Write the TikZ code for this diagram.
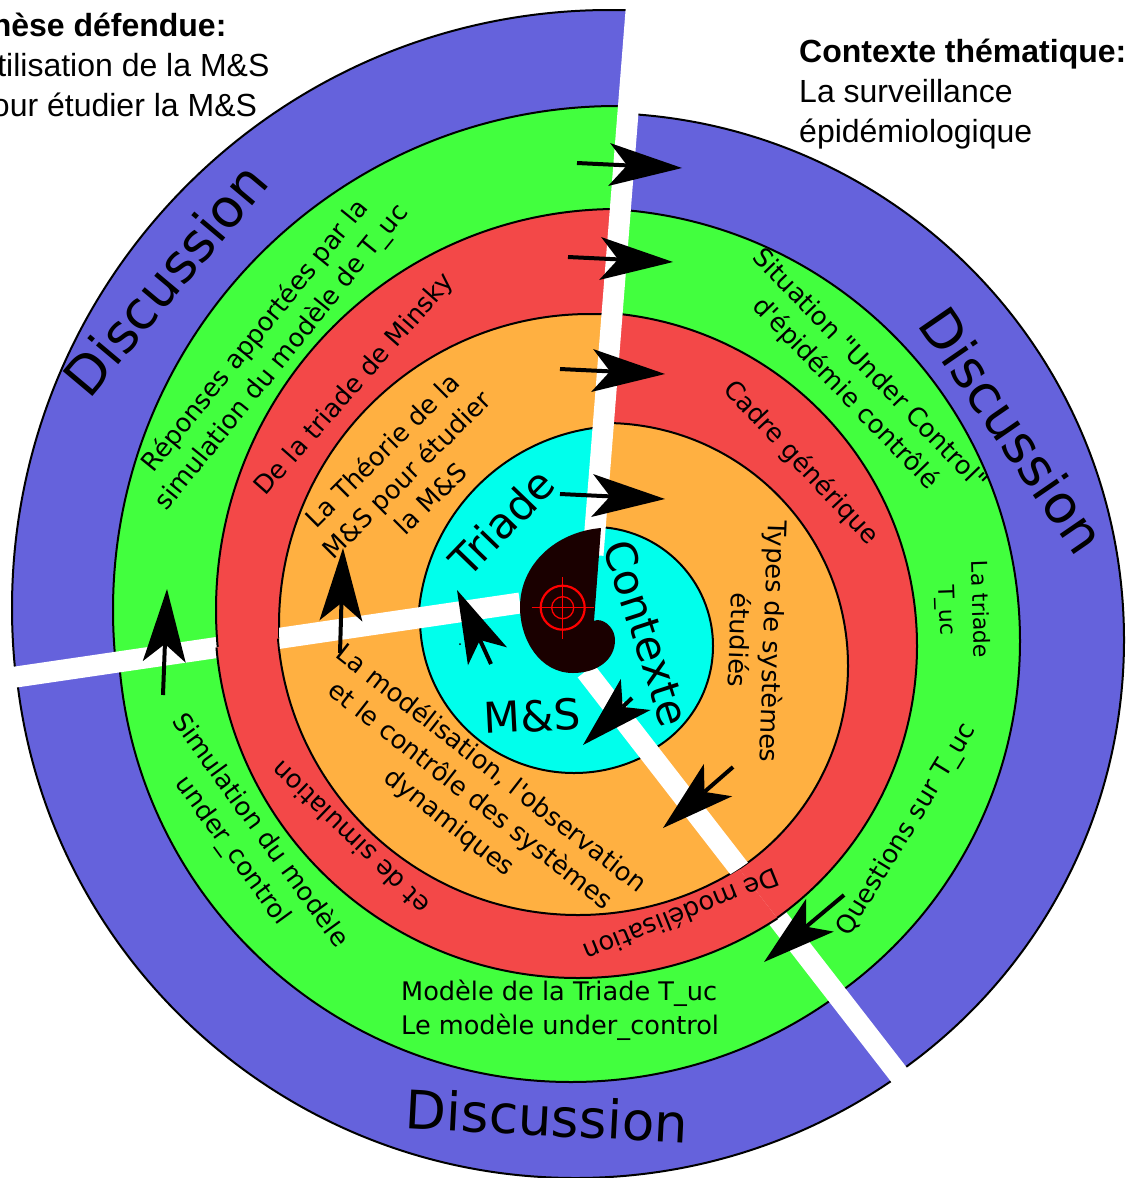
\documentclass[tikz,border=0pt]{standalone}
\usepackage{fontspec}
\setmainfont{Liberation Sans}
\newfontfamily\djv{DejaVu Sans}
\usetikzlibrary{arrows.meta}
\definecolor{cblue}{HTML}{6562DC}
\definecolor{cgreen}{HTML}{42FF3E}
\definecolor{cred}{HTML}{F34848}
\definecolor{corange}{HTML}{FFB041}
\definecolor{ccyan}{HTML}{00FFEC}
\definecolor{cblob}{HTML}{1A0000}
\tikzset{
  ring/.style={draw=black,line width=2pt},
  spoke/.style={draw=white,line width=21pt},
  lab/.style={font={\fontsize{25.6}{34}\selectfont\djv},align=center,inner sep=0pt,text=black},
  smalllab/.style={font={\fontsize{22}{33}\selectfont\djv},align=center,inner sep=0pt},
  big/.style={font={\fontsize{42.5}{48}\selectfont\djv},inner sep=0pt},
  huge/.style={font={\fontsize{53.2}{60}\selectfont\djv},inner sep=0pt},
  head/.style={font={\fontsize{32}{40}\selectfont},align=left,inner sep=0pt,anchor=north west},
  bigarrow/.style={draw=black,line width=4pt,-{Stealth[length=73pt,width=43pt,inset=18pt,line width=0pt]}},
}
\newcommand{\wedgeA}{(565,630)--(520,603)--(16,677)--(-300,723)--(-300,-300)--(644,-300)--(636,10)--(595,530)--cycle}
\newcommand{\wedgeB}{(565,630)--(595,530)--(636,10)--(644,-300)--(1500,-300)--(1500,1700)--(1055,1277)--(586,671)--cycle}
\newcommand{\wedgeC}{(565,630)--(586,671)--(1055,1277)--(1055,1700)--(-300,1700)--(-300,723)--(16,677)--(520,603)--cycle}
\newcommand{\ringlayer}[4]{%
  \begin{scope}\clip \wedgeA; \path[ring,fill=#1] #2; \end{scope}
  \begin{scope}\clip \wedgeB; \path[ring,fill=#1] #3; \end{scope}
  \begin{scope}\clip \wedgeC; \path[ring,fill=#1] #4; \end{scope}}
\newcommand{\arrowfrom}[5]{%
  \coordinate (#1t) at (#2,#3); \coordinate (#1h) at (#4,#5);
  \draw[bigarrow] (#1t) -- (#1h);}
\begin{document}
\begin{tikzpicture}[x=1pt,y=-1pt]
\useasboundingbox (0,0) rectangle (1125,1178);
\clip (0,0) rectangle (1125,1178);
% spoke coordinates
\coordinate (s1a) at (644,-90); \coordinate (s1b) at (593,555);
\coordinate (s2a) at (-100,694); \coordinate (s2b) at (520,603);
\coordinate (s3a) at (586,671); \coordinate (s3b) at (1000,1205);
% outer layers
\ringlayer{cblue}{(610,608) circle[radius=598pt]}{(597,640) circle[radius=527pt]}{(575.5,616) circle[radius=562pt]}
\ringlayer{cgreen}{(617,610) circle[radius=504pt]}{(587.5,641) circle[radius=432.5pt]}{(571,629) circle[radius=453pt]}
\draw[spoke] (s2a) -- (s2b);
\draw[spoke] (s3a) -- (s3b);
% inner layers
\ringlayer{cred}{(617,610) circle[radius=401pt]}{(583,646) circle[radius=334pt]}{(578,615) circle[radius=363pt]}
\draw[cred,line width=3pt] (221,646.5) -- (282,638);
\draw[cred,line width=3pt] (736,862) -- (775,912);
\ringlayer{corange}{(590,625) circle[radius=311pt]}{(605,666) circle[radius=243pt]}{(578,614) circle[radius=301pt]}
\ringlayer{ccyan}{(622,630) circle[radius=204pt]}{(594,646) circle[radius=119pt]}{(574,619) circle[radius=154pt]}
\begin{scope}\clip (590,625) circle[radius=311pt]; \draw[spoke] (s2a) -- (s2b); \end{scope}
\begin{scope}\clip (605,666) circle[radius=243pt]; \draw[spoke] (s3a) -- (s3b); \end{scope}
\draw[spoke] (s1a) -- (s1b);
% central blob and target
\fill[cblob] (601,528) .. controls (555,532) and (520,565) .. (520,607)
  .. controls (520,640) and (540,673) .. (573,673)
  .. controls (597,673) and (615,660) .. (615,640)
  .. controls (615,630) and (607,620) .. (597,620)
  -- (594,621) -- cycle;
\draw[red,line width=2.2pt] (562.7,607.7) circle[radius=22pt];
\draw[red,line width=1.3pt] (562.7,607.7) circle[radius=11pt];
\draw[red,line width=1.3pt] (531.7,607.7) -- (594,607.7) (562.7,577) -- (562.7,639);
% arrows
\arrowfrom{a}{577}{163}{682}{168}
\arrowfrom{b}{568}{257}{673}{262}
\arrowfrom{c}{560}{369}{665}{374}
\arrowfrom{d}{560}{494}{665}{499}
\arrowfrom{e}{632}{698}{583}{745}
\arrowfrom{f}{733}{767}{663}{828}
\arrowfrom{g}{844}{895}{764}{962}
\arrowfrom{h}{163}{695}{167}{589}
\arrowfrom{i}{340}{653}{343}{548}
\arrowfrom{j}{491}{664}{457}{590}
\fill (460,644) circle[radius=1pt];
% texts
\node[head] (hl) at (-26,13) {\hspace*{-2pt}\textbf{Thèse défendue:}\\Utilisation de la M\&S\\pour étudier la M\&S};
\node[head] (hr) at (799,39) {\textbf{Contexte thématique:}\\La surveillance\\épidémiologique};
\node[huge,rotate=50] (d1) at (165,279) {Discussion};
\node[huge,rotate=-55.5] (d2) at (1013,430) {Discussion};
\node[huge,rotate=-3] (d3) at (547,1116) {Discussion};
\node[big,rotate=46] (t1) at (502,522) {Triade};
\node[big,rotate=-72] (t2) at (647,633) {Contexte};
\node[big,rotate=3] (t3) at (532,716) {M\&S};
\node[lab,rotate=-46] (l1) at (857,382) {Situation "Under Control"\\d'épidémie contrôlé};
\node[lab,rotate=-47] (l2) at (801,463) {Cadre générique};
\node[lab,rotate=58.6] (l3) at (907,830) {Questions sur T\_uc};
\node[smalllab,rotate=-88] (l4) at (962,610) {La triade\\T\_uc};
\node[lab,rotate=-92] (l5) at (757,641) {Types de systèmes\\étudiés};
\node[lab,rotate=-54] (l6) at (246,841) {Simulation du modèle\\under\_control};
\node[lab,rotate=136] (l7) at (350,838) {et de simulation};
\node[lab,rotate=202] (l8) at (682,916) {De modélisation};
\node[lab,rotate=-38] (l9) at (470,796) {La modélisation, l'observation\\et le contrôle des systèmes\\dynamiques};
\node[lab,rotate=45] (l10) at (406,474) {La Théorie de la\\M\&S pour étudier\\la M\&S};
\node[lab,rotate=48.6] (l11) at (355,385) {De la triade de Minsky};
\node[lab,rotate=51] (l12) at (269,347) {Réponses apportées par la\\simulation du modèle de T\_uc};
\node[lab,align=left,anchor=west] (l13) at (401,1010) {Modèle de la Triade T\_uc\\Le modèle under\_control};
\end{tikzpicture}
\end{document}
